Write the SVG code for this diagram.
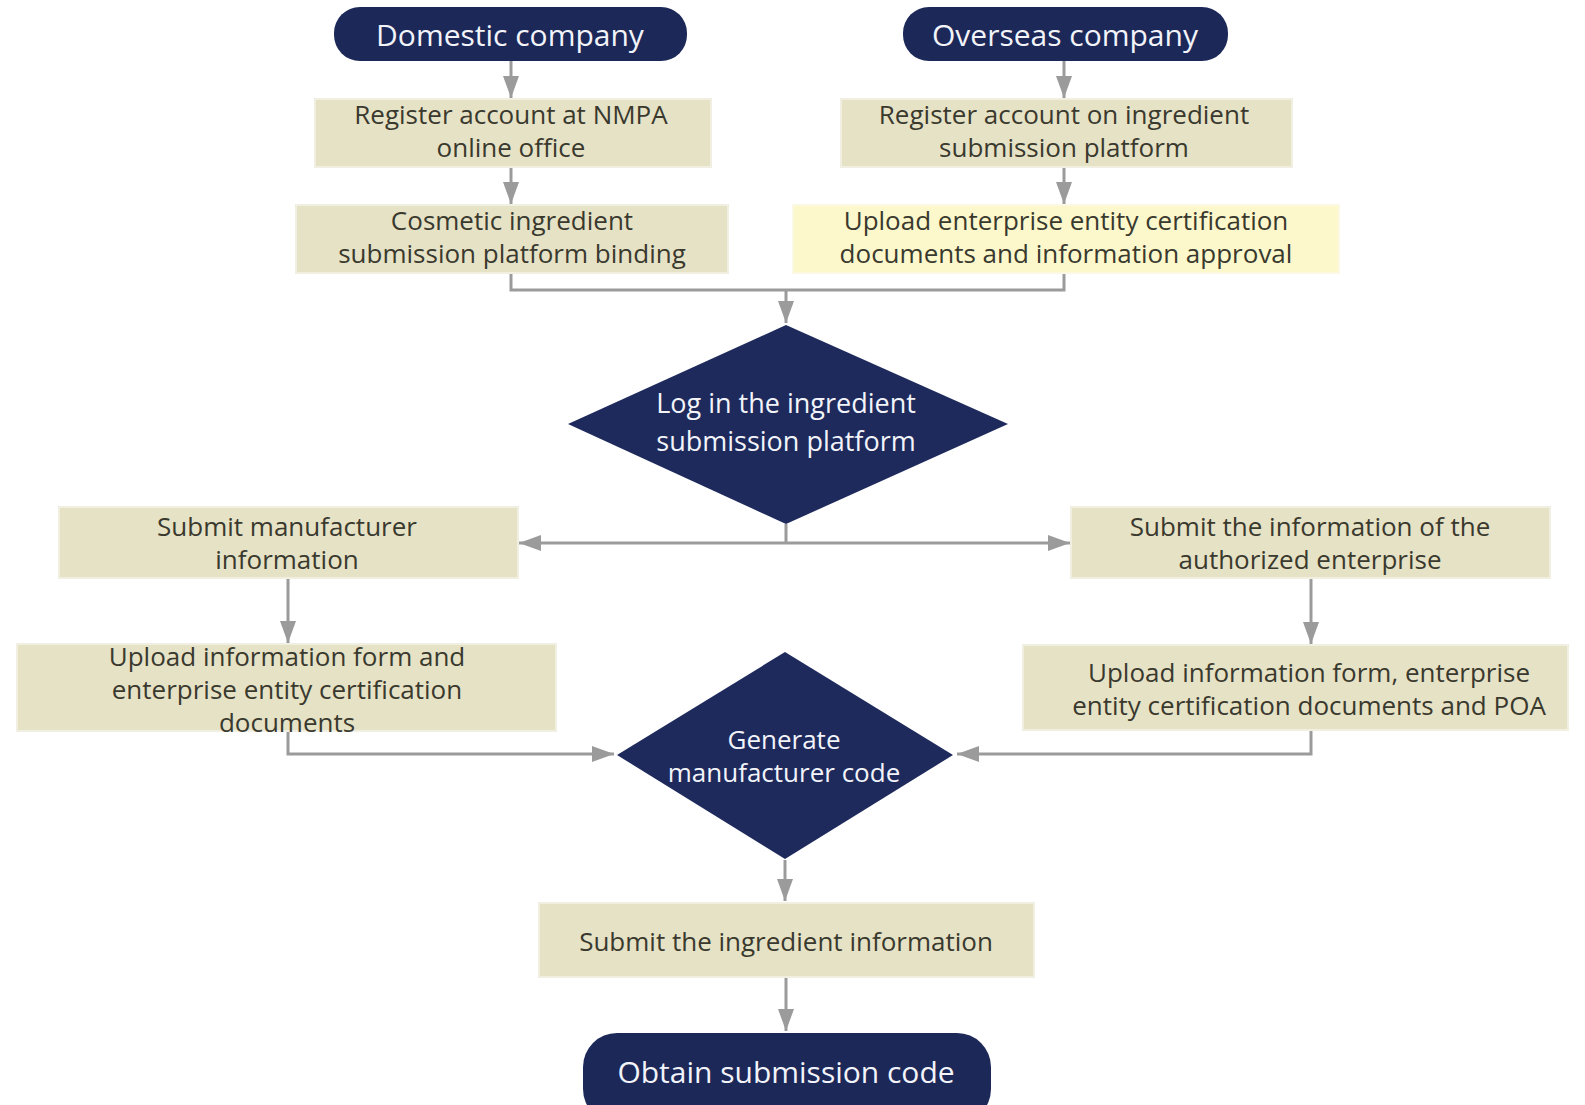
<svg xmlns="http://www.w3.org/2000/svg" width="1585" height="1105" viewBox="0 0 1585 1105">
<style>
.pill{fill:#1c2858;}
.dia{fill:#1e2a5c;}
.box{fill:#e6e2c6;stroke:#f1efe2;stroke-width:2;}
.ybox{fill:#fcf8cc;stroke:#fbf9e4;stroke-width:2;}
.lt{font-family:"Open Sans","Noto Sans",sans-serif;fill:#f2f4fa;text-anchor:middle;}
.bt{font-family:"Open Sans","Noto Sans",sans-serif;fill:#3a392e;text-anchor:middle;font-size:26px;}
.cn{fill:none;stroke:#9b9b9b;stroke-width:3;}
</style>
<defs>
<marker id="ah" viewBox="0 0 22 16" refX="22" refY="8" markerWidth="22" markerHeight="16" orient="auto-start-reverse" markerUnits="userSpaceOnUse">
<path d="M0,0 L22,8 L0,16 z" fill="#9b9b9b"/>
</marker>
</defs>
<rect width="1585" height="1105" fill="#ffffff"/>
<g id="connectors">
<path class="cn" d="M511,61 V98" marker-end="url(#ah)"/>
<path class="cn" d="M511,167 V204" marker-end="url(#ah)"/>
<path class="cn" d="M1064,61 V98" marker-end="url(#ah)"/>
<path class="cn" d="M1064,167 V204" marker-end="url(#ah)"/>
<path class="cn" d="M511,273 V290 H1064 V273"/>
<path class="cn" d="M786,290 V323" marker-end="url(#ah)"/>
<path class="cn" d="M786,524 V543"/>
<path class="cn" d="M519,543 H1070" marker-start="url(#ah)" marker-end="url(#ah)"/>
<path class="cn" d="M288,578 V643" marker-end="url(#ah)"/>
<path class="cn" d="M1311,578 V644" marker-end="url(#ah)"/>
<path class="cn" d="M288,731 V754 H614" marker-end="url(#ah)"/>
<path class="cn" d="M1311,730 V754 H957" marker-end="url(#ah)"/>
<path class="cn" d="M785,860 V901" marker-end="url(#ah)"/>
<path class="cn" d="M786,977 V1031" marker-end="url(#ah)"/>
</g>
<g id="domestic">
<rect class="pill" x="334" y="7" width="353" height="54" rx="26"/>
<text class="lt" x="510" y="46" font-size="30">Domestic company</text>
</g>
<g id="overseas">
<rect class="pill" x="903" y="7" width="325" height="54" rx="26"/>
<text class="lt" x="1065" y="46" font-size="30">Overseas company</text>
</g>
<g id="register-nmpa">
<rect class="box" x="315" y="99" width="396" height="68"/>
<text class="bt" x="511" y="124">Register account at NMPA</text>
<text class="bt" x="511" y="157">online office</text>
</g>
<g id="register-platform">
<rect class="box" x="841" y="99" width="451" height="68"/>
<text class="bt" x="1064" y="124">Register account on ingredient</text>
<text class="bt" x="1064" y="157">submission platform</text>
</g>
<g id="binding">
<rect class="box" x="296" y="205" width="432" height="68"/>
<text class="bt" x="512" y="230">Cosmetic ingredient</text>
<text class="bt" x="512" y="263">submission platform binding</text>
</g>
<g id="upload-approval">
<rect class="ybox" x="793" y="205" width="546" height="68"/>
<text class="bt" x="1066" y="230" font-size="28">Upload enterprise entity certification</text>
<text class="bt" x="1066" y="263" font-size="28">documents and information approval</text>
</g>
<g id="login">
<polygon class="dia" points="786,325 1008,424 786,524 568,424"/>
<text class="lt" x="786" y="413" font-size="27">Log in the ingredient</text>
<text class="lt" x="786" y="451" font-size="27">submission platform</text>
</g>
<g id="submit-manufacturer">
<rect class="box" x="59" y="507" width="459" height="71"/>
<text class="bt" x="287" y="536">Submit manufacturer</text>
<text class="bt" x="287" y="569">information</text>
</g>
<g id="submit-authorized">
<rect class="box" x="1071" y="507" width="479" height="71"/>
<text class="bt" x="1310" y="536" font-size="27">Submit the information of the</text>
<text class="bt" x="1310" y="569" font-size="27">authorized enterprise</text>
</g>
<g id="upload-domestic">
<rect class="box" x="17" y="644" width="539" height="87"/>
<text class="bt" x="287" y="666" font-size="27">Upload information form and</text>
<text class="bt" x="287" y="699" font-size="27">enterprise entity certification</text>
<text class="bt" x="287" y="732" font-size="27">documents</text>
</g>
<g id="upload-overseas">
<rect class="box" x="1023" y="645" width="545" height="85"/>
<text class="bt" x="1309" y="682" font-size="27">Upload information form, enterprise</text>
<text class="bt" x="1309" y="715" font-size="27">entity certification documents and POA</text>
</g>
<g id="generate">
<polygon class="dia" points="785,652 953,755 785,859 617,755"/>
<text class="lt" x="784" y="749" font-size="26">Generate</text>
<text class="lt" x="784" y="782" font-size="26">manufacturer code</text>
</g>
<g id="submit-ingredient">
<rect class="box" x="539" y="903" width="495" height="74"/>
<text class="bt" x="786" y="951" font-size="28">Submit the ingredient information</text>
</g>
<g id="obtain">
<rect class="pill" x="583" y="1033" width="408" height="90" rx="34"/>
<text class="lt" x="786" y="1083" font-size="30">Obtain submission code</text>
</g>
</svg>
